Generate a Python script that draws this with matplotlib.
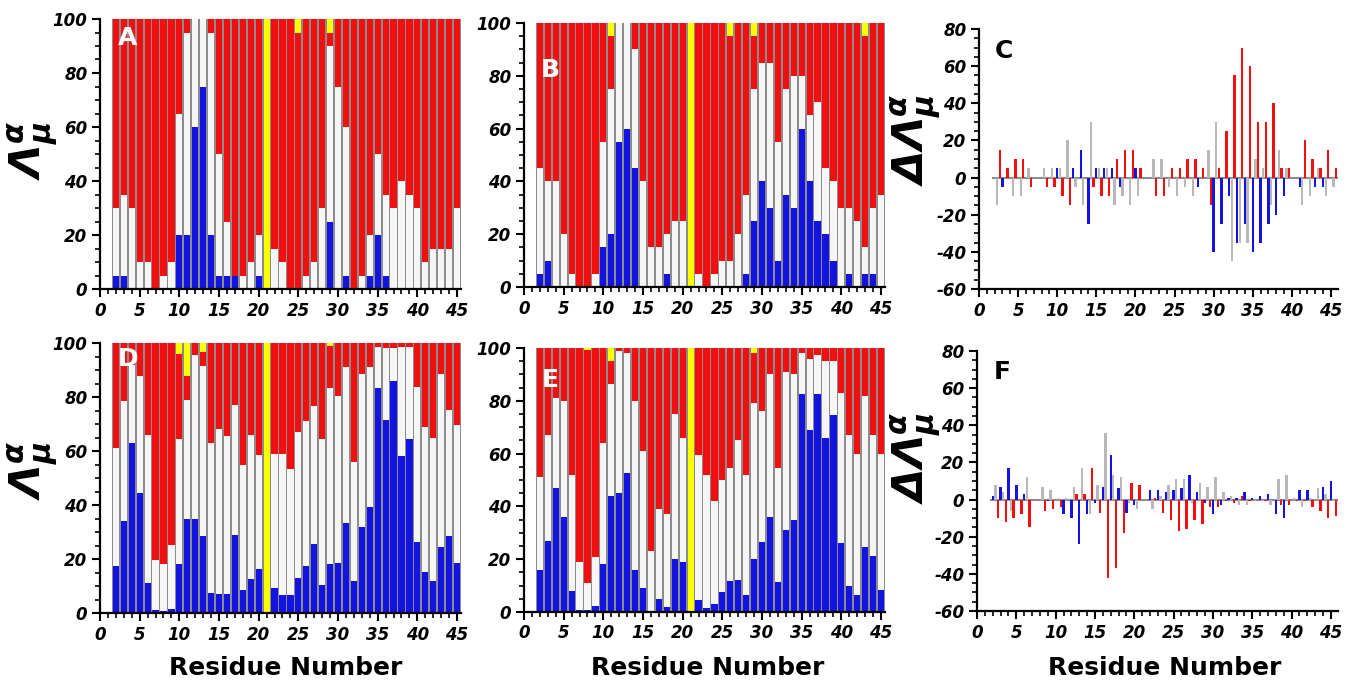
import numpy as np
import matplotlib.pyplot as plt
from matplotlib.ticker import MultipleLocator

# residue numbers shown in every panel
residues = np.arange(2, 46)

# panel A: stacked percentages (blue, white, red, yellow)
blue_A = [5, 5, 0, 0, 0, 0, 0, 0, 20, 20, 60, 75, 20, 5, 5, 5, 0, 0, 5, 0, 0, 0,
          0, 0, 0, 0, 0, 25, 0, 5, 0, 0, 5, 20, 5, 0, 0, 0, 0, 0, 0, 0, 0, 0]
white_A = [25, 30, 30, 10, 10, 0, 5, 10, 45, 75, 40, 25, 75, 45, 20, 0, 5, 10, 15, 0, 15, 10,
           0, 0, 5, 10, 30, 65, 75, 55, 0, 5, 15, 30, 30, 30, 40, 35, 30, 10, 15, 15, 15, 30]
red_A = [70, 65, 70, 90, 90, 100, 95, 90, 35, 5, 0, 0, 5, 50, 75, 95, 95, 90, 80, 0, 85, 90,
         100, 95, 95, 90, 70, 5, 25, 40, 100, 95, 80, 50, 65, 70, 60, 65, 70, 90, 85, 85, 85, 70]
yellow_A = [0, 0, 0, 0, 0, 0, 0, 0, 0, 0, 0, 0, 0, 0, 0, 0, 0, 0, 0, 100, 0, 0,
            0, 5, 0, 0, 0, 5, 0, 0, 0, 0, 0, 0, 0, 0, 0, 0, 0, 0, 0, 0, 0, 0]

# panel B
blue_B = [5, 10, 0, 0, 0, 0, 0, 0, 15, 20, 55, 60, 45, 0, 0, 0, 5, 0, 0, 0, 0, 0,
          0, 0, 0, 0, 5, 25, 40, 30, 10, 35, 30, 60, 40, 25, 20, 10, 0, 5, 0, 5, 5, 0]
white_B = [40, 30, 40, 20, 5, 0, 0, 5, 40, 55, 45, 40, 45, 40, 15, 15, 15, 25, 25, 0, 5, 0,
           5, 10, 10, 20, 30, 50, 45, 55, 45, 40, 50, 20, 25, 45, 25, 30, 30, 25, 25, 10, 25, 35]
red_B = [55, 60, 60, 80, 95, 100, 100, 95, 45, 20, 0, 0, 10, 60, 85, 85, 80, 75, 75, 0, 95, 100,
         95, 90, 85, 80, 65, 20, 15, 15, 45, 25, 20, 20, 35, 30, 55, 60, 70, 70, 75, 80, 70, 65]
yellow_B = [0, 0, 0, 0, 0, 0, 0, 0, 0, 5, 0, 0, 0, 0, 0, 0, 0, 0, 0, 100, 0, 0,
            0, 0, 5, 0, 0, 5, 0, 0, 0, 0, 0, 0, 0, 0, 0, 0, 0, 0, 0, 5, 0, 0]

# panel D
blue_D = [17.5, 34, 63, 44.5, 11, 1.2, 0.7, 1.5, 18, 35, 34.7, 28.5, 7.4, 7, 7, 29, 8.6, 12.7, 16.4, 0, 9.4, 6.5,
          6.5, 13, 17.5, 25.7, 10.2, 18.3, 18.6, 33.3, 11.9, 31.9, 39.3, 83.5, 71.6, 85.8, 58, 64.6, 26.2, 15.2, 11.9, 24.4, 28.4, 18.6]
white_D = [43.5, 44.5, 29, 43.1, 55, 18.3, 17.3, 23.8, 46.6, 44, 61, 62.9, 55.6, 61, 58.4, 48, 46.4, 53.3, 42, 0, 49.4, 52.3,
           47, 54, 53.5, 51.1, 54.4, 65, 61.8, 57.7, 44.1, 56.7, 51.7, 15, 26.4, 12.2, 40.5, 33.9, 57.5, 53.8, 53.1, 64, 46.9, 50.9]
red_D = [39, 21.5, 8, 12.4, 34, 80.5, 82, 74.7, 31.4, 8.6, 4.3, 5.3, 37, 32, 34.6, 23, 45, 34, 41.6, 0, 41.2, 41.2,
         46.5, 33, 29, 23.2, 35.4, 15.7, 19.6, 9, 44, 11.4, 9, 1.5, 2, 2, 1.5, 1.5, 16.3, 31, 35, 11.6, 24.7, 30.5]
yellow_D = [0, 0, 0, 0, 0, 0, 0, 0, 4, 12.4, 0, 3.3, 0, 0, 0, 0, 0, 0, 0, 100, 0, 0,
            0, 0, 0, 0, 0, 1, 0, 0, 0, 0, 0, 0, 0, 0, 0, 0, 0, 0, 0, 0, 0, 0]

# panel E
blue_E = [16, 27, 47, 36, 7.8, 0.9, 0.6, 2.2, 18, 44, 45, 52.5, 16, 9, 0, 5, 2, 20, 19, 0, 4.7, 1.5,
          3, 7.6, 11.8, 12.3, 6.3, 20, 26.6, 36, 11.4, 31, 35, 82.7, 69, 82.7, 66, 74.7, 26, 9.7, 6.6, 24.7, 21.4, 8.5]
white_E = [35, 40, 34, 44, 44.2, 18.1, 10.4, 18.8, 46, 42.5, 54, 45.5, 64, 52, 23, 34, 35, 55, 47, 0, 54.8, 50.5,
           39, 42.4, 42.6, 52.7, 45.7, 59, 49.4, 54, 43, 60, 55, 15.3, 27, 14.8, 29, 20.3, 57, 57.3, 53.4, 57.3, 45.6, 51.5]
red_E = [49, 33, 19, 20, 48, 81, 88.4, 79, 36, 8.5, 1, 2, 20, 39, 77, 61, 63, 25, 34, 0, 40.5, 48,
         58, 50, 45.6, 35, 48, 19, 24, 10, 45.6, 9, 10, 2, 4, 2.5, 5, 5, 17, 33, 40, 18, 33, 40]
yellow_E = [0, 0, 0, 0, 0, 0, 0.6, 0, 0, 5, 0, 0, 0, 0, 0, 0, 0, 0, 0, 100, 0, 0,
            0, 0, 0, 0, 0, 2, 0, 0, 0, 0, 0, 0, 0, 0, 0, 0, 0, 0, 0, 0, 0, 0]

# panel C: differences (blue, gray, red)
blue_C = [0, -5, 0, 0, 0, 0, 0, 0, 5, 0, 5, 15, -25, 5, 5, 5, -5, 0, 5, 0, 0, 0,
          0, 0, 0, 0, -5, 0, -40, -25, -10, -35, -25, -40, -35, -25, -20, -10, 0, -5, 0, -5, -5, 0]
gray_C = [-15, 0, -10, -10, 5, 0, 5, 5, 5, 20, -5, -15, 30, 5, 5, -15, -10, -15, -10, 0, 10, 10,
          -5, -10, -5, -10, 0, 15, 30, 0, -45, -35, -35, 10, 5, -15, 15, 5, 0, -15, -10, 5, -10, -5]
red_C = [15, 5, 10, 10, -5, 0, -5, -5, -10, -15, 0, 0, -5, -10, -10, 10, 15, 15, 5, 0, -10, -10,
         5, 5, 10, 10, 5, -15, 5, 25, 55, 70, 60, 30, 30, 40, 5, 5, 0, 20, 10, 5, 15, 5]

# panel F
blue_F = [2, 7, 17, 8, 3, 0, 0, -1, 0, -8, -10, -24, -8, -2, 7, 24, 6, -7, -3, 0, 5, 5,
          4, 5, 6, 13, 4, -2, -8, -3, 1, 1, 4, 1, 2, 3, -8, -10, 0, 5, 5, 0, 7, 10]
gray_F = [8, 4, -6, 0, 12, 0, 7, 5, 1, 1, 7, 17, -8, 8, 36, 13, 12, -2, -5, 0, -5, 2,
          8, 11, 11, -2, 9, 7, 12, 4, 2, -3, -3, -1, -1, -3, 11, 13, 1, -4, 1, 6, 3, -1]
red_F = [-10, -12, -10, -8, -15, 0, -6, -5, -4, 0, 3, 3, 17, -7, -42, -37, -18, 9, 8, 0, 1, -7,
         -11, -17, -16, -11, -13, -4, -4, -1, -2, 2, -1, 0, -1, 0, -3, -3, -1, -1, -4, -6, -10, -9]

RED = '#f20f0f'
BLUE = '#1414e0'
WHITE = '#f6f6f6'
YELLOW = '#ffff00'
GRAY = '#b8b8b8'
SEP = '#8c8c8c'

plt.rcParams['font.family'] = ['DejaVu Sans']
plt.rcParams['font.style'] = 'italic'
plt.rcParams['font.weight'] = 'bold'
plt.rcParams['axes.unicode_minus'] = False
plt.rcParams['mathtext.default'] = 'bf'

W, H = 1347, 694
fig = plt.figure(figsize=(W / 100, H / 100), dpi=100)


def add_ax(x0, top, width, bottom):
    return fig.add_axes([x0 / W, 1 - bottom / H, width / W, (bottom - top) / H])


def style(ax, ymin, ymax, xmax):
    ax.set_xlim(0, xmax)
    ax.set_ylim(ymin, ymax)
    for s in ['top', 'right']:
        ax.spines[s].set_visible(False)
    for s in ['left', 'bottom']:
        ax.spines[s].set_linewidth(1.6)
    ax.xaxis.set_major_locator(MultipleLocator(5))
    ax.xaxis.set_minor_locator(MultipleLocator(1))
    ax.yaxis.set_major_locator(MultipleLocator(20))
    ax.yaxis.set_minor_locator(MultipleLocator(5))
    ax.tick_params(which='major', length=6, width=1.5, labelsize=12, pad=3)
    ax.tick_params(which='minor', length=3.5, width=1.2)


def stacked(ax, blue, white, red, yellow):
    b = np.array(blue)
    w = np.array(white)
    r = np.array(red)
    y = np.array(yellow)
    # gray separators behind each column
    ax.bar(residues, b + w + r + y, width=1.0, color=SEP, linewidth=0)
    kw = dict(width=0.78, linewidth=0)
    ax.bar(residues, b, color=BLUE, **kw)
    ax.bar(residues, w, bottom=b, color=WHITE, **kw)
    ax.bar(residues, r, bottom=b + w, color=RED, **kw)
    ax.bar(residues, y, bottom=b + w + r, color=YELLOW, **kw)
    style(ax, 0, 100, 45.5)


def diffs(ax, blue, gray, red):
    ax.hlines(0, residues[0] - 0.3, residues[-1] + 0.9, color='#8c8c8c', lw=1.5, zorder=1)
    kw = dict(width=0.3, linewidth=0, zorder=2)
    ax.bar(residues, blue, color=BLUE, **kw)
    ax.bar(residues + 0.33, gray, color=GRAY, **kw)
    ax.bar(residues + 0.66, red, color=RED, **kw)
    style(ax, -60, 80, 45.9)


axA = add_ax(100, 19, 361, 289)
stacked(axA, blue_A, white_A, red_A, yellow_A)
axB = add_ax(524, 23, 361, 287)
stacked(axB, blue_B, white_B, red_B, yellow_B)
axC = add_ax(979, 29, 359, 289)
diffs(axC, blue_C, gray_C, red_C)
axD = add_ax(100, 343, 361, 613)
stacked(axD, blue_D, white_D, red_D, yellow_D)
axE = add_ax(524, 348, 361, 612)
stacked(axE, blue_E, white_E, red_E, yellow_E)
axF = add_ax(977, 351, 361, 611)
diffs(axF, blue_F, gray_F, red_F)

# panel letters
letters = [('A', 128, 38, 'white'), ('B', 550, 70, 'white'), ('C', 1004, 51, 'black'),
           ('D', 128, 359, 'white'), ('E', 550, 380, 'white'), ('F', 1002, 372, 'black')]
for txt, x, y, c in letters:
    fig.text(x / W, 1 - y / H, txt, color=c, fontsize=18, fontstyle='normal',
             fontweight='bold', ha='center', va='center')

# y labels
for y in (150, 470):
    fig.text(33 / W, 1 - y / H, r'$\Lambda_{\mu}^{\alpha}$', rotation=90, fontsize=31,
             ha='center', va='center')
for y in (140, 458):
    fig.text(916 / W, 1 - y / H, r'$\Delta\Lambda_{\mu}^{\alpha}$', rotation=90, fontsize=31,
             ha='center', va='center')

# x labels
for x in (286, 708, 1165):
    fig.text(x / W, 1 - 668 / H, 'Residue Number', fontsize=18, fontstyle='normal',
             fontweight='bold', ha='center', va='center')

fig.savefig('out.png', dpi=100)
